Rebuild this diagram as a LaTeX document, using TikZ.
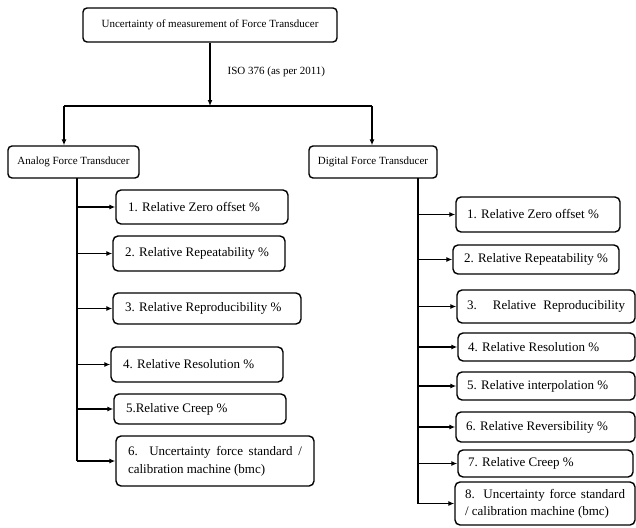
\documentclass[tikz,border=0pt]{standalone}
\usepackage{fontspec}
\setmainfont{Liberation Serif}
\usetikzlibrary{arrows.meta}
\begin{document}
\begin{tikzpicture}[x=1pt,y=-1pt,
 line width=1.4pt,
 arr/.style={-{Latex[length=6pt,width=5pt]}},
 normsp/.style={execute at begin node={\spaceskip=0pt\xspaceskip=0pt\relax}},
 head/.style={draw, normsp, rounded corners=4pt, font=\fontsize{11}{13}\selectfont, inner sep=0pt, align=center},
 item/.style={draw, normsp, rounded corners=5pt, font=\fontsize{13}{19}\selectfont, inner xsep=12pt, inner ysep=0pt, align=left},
 jitem/.style={item, align=justify},
 lbl/.style={normsp, font=\fontsize{11}{13}\selectfont, inner sep=0pt}
]
\useasboundingbox (0,0) rectangle (636,527);

% heads
\node[head, minimum width=254pt, minimum height=34pt] (top) at (210,25) {Uncertainty of measurement of Force Transducer};
\node[head, minimum width=131pt, minimum height=32pt] (analog) at (73.5,162) {Analog Force Transducer};
\node[head, minimum width=128pt, minimum height=32pt] (digital) at (373,162) {Digital Force Transducer};

\node[lbl, anchor=west] (iso) at (227,72) {ISO 376 (as per 2011)};

\coordinate (hl) at (64,106);
\coordinate (hr) at (372,106);
\draw[arr] (top.south) -- (top.south |- hl);
\draw (hl) -- (hr);
\draw[arr] (hl) -- (hl |- analog.north);
\draw[arr] (hr) -- (hr |- digital.north);

% left items
\node[item, text width=148pt, minimum height=34pt] (L1) at (202,207) {1. Relative Zero offset \%};
\node[item, text width=148pt, minimum height=35pt] (L2) at (199,253.5) {2. Relative Repeatability \%};
\node[item, text width=164pt, minimum height=31pt] (L3) at (207,308.5) {3. Relative Reproducibility \%};
\node[item, text width=148pt, minimum height=35pt] (L4) at (197,364.5) {4. Relative Resolution \%};
\node[item, text width=148pt, minimum height=30pt] (L5) at (200,409) {5.Relative Creep \%};
\node[jitem, text width=174pt, minimum height=50pt, font=\fontsize{13}{18}\selectfont] (L6) at (215,461) {6. Uncertainty force standard / calibration machine (bmc)};

\coordinate (lt) at (77,178);
\draw (lt) -- (lt |- L6.west);
\foreach \n in {L1,L2,L3,L4,L5,L6} \draw[arr] (lt |- \n.west) -- (\n.west);

% right items
\node[item, inner xsep=11pt, text width=142pt, minimum height=35pt] (R1) at (538,214.5) {1. Relative Zero offset \%};
\node[item, inner xsep=11pt, text width=144pt, minimum height=29pt] (R2) at (536,259.5) {2. Relative Repeatability \%};
\node[item, inner xsep=10pt, text width=158pt, minimum height=33pt] (R3) at (546,306.5) {\makebox[158pt][s]{3. Relative Reproducibility}};
\node[item, inner xsep=10pt, text width=157pt, minimum height=28pt] (R4) at (546.5,347) {4. Relative Resolution \%};
\node[item, inner xsep=10pt, text width=158pt, minimum height=28pt] (R5) at (546,386) {5. Relative interpolation \%};
\node[item, inner xsep=10pt, text width=159pt, minimum height=30pt] (R6) at (545.5,427) {6. Relative Reversibility \%};
\node[item, inner xsep=10pt, text width=155pt, minimum height=27pt] (R7) at (545.5,463.5) {7. Relative Creep \%};
\node[jitem, inner xsep=10pt, text width=160pt, minimum height=43pt, font=\fontsize{13}{17}\selectfont] (R8) at (545,503.5) {8. Uncertainty force standard\linebreak / calibration machine (bmc)};

\coordinate (rt) at (418,178);
\draw (rt) -- (rt |- R8.west);
\foreach \n in {R1,R2,R3,R4,R5,R6,R7,R8} \draw[arr] (rt |- \n.west) -- (\n.west);
\end{tikzpicture}
\end{document}
